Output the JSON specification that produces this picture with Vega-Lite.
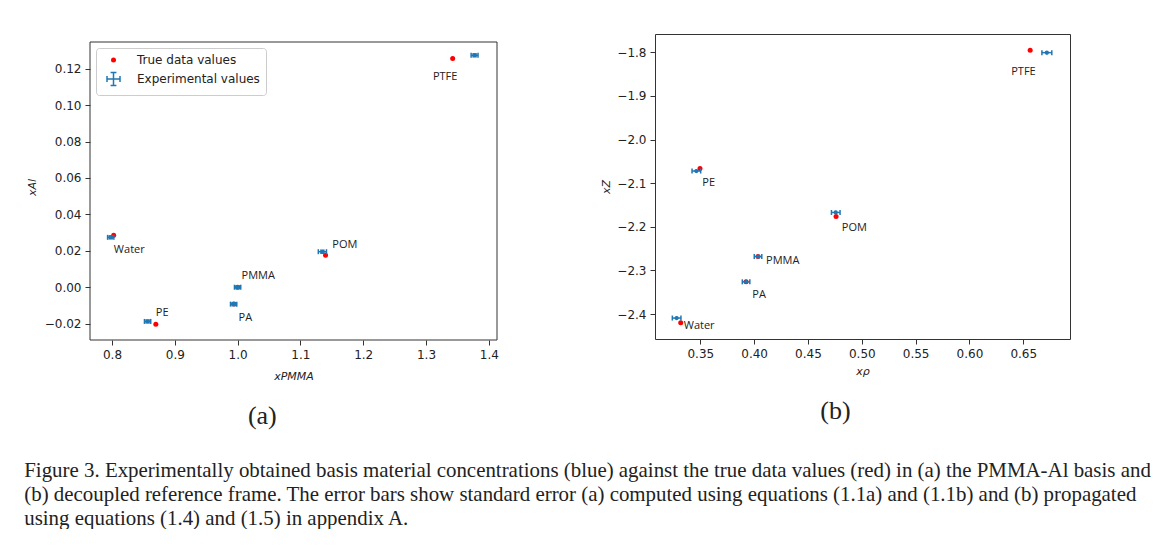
{
  "$schema": "https://vega.github.io/schema/vega-lite/v6.json",
  "background": "white",
  "padding": {"left": 24, "top": 33, "right": 0, "bottom": 0},
  "datasets": {
    "trueA": [
      {"material": "PMMA", "series": "True data values", "x": 1.0, "y": 0.0},
      {"material": "PA", "series": "True data values", "x": 0.994, "y": -0.0092},
      {"material": "Water", "series": "True data values", "x": 0.8027, "y": 0.0285},
      {"material": "PE", "series": "True data values", "x": 0.8698, "y": -0.0204},
      {"material": "POM", "series": "True data values", "x": 1.140, "y": 0.0176},
      {"material": "PTFE", "series": "True data values", "x": 1.3424, "y": 0.1257}
    ],
    "expA": [
      {"material": "Water", "x": 0.798, "y": 0.0274, "xlo": 0.793, "xhi": 0.803, "ylo": 0.0265, "yhi": 0.0283},
      {"material": "PE", "x": 0.8567, "y": -0.0188, "xlo": 0.8517, "xhi": 0.8617, "ylo": -0.0197, "yhi": -0.0179},
      {"material": "PMMA", "x": 1.0, "y": 0.0, "xlo": 0.995, "xhi": 1.005, "ylo": -0.0009, "yhi": 0.0009},
      {"material": "PA", "x": 0.9937, "y": -0.0093, "xlo": 0.9887, "xhi": 0.9987, "ylo": -0.0102, "yhi": -0.0084},
      {"material": "POM", "x": 1.135, "y": 0.0195, "xlo": 1.1285, "xhi": 1.1415, "ylo": 0.0186, "yhi": 0.0204},
      {"material": "PTFE", "x": 1.3773, "y": 0.1274, "xlo": 1.3718, "xhi": 1.3828, "ylo": 0.1265, "yhi": 0.1283}
    ],
    "labA": [
      {"material": "Water", "x": 0.803, "y": 0.0204},
      {"material": "PE", "x": 0.8698, "y": -0.0142},
      {"material": "PMMA", "x": 1.0063, "y": 0.0061},
      {"material": "PA", "x": 1.0016, "y": -0.017},
      {"material": "POM", "x": 1.1508, "y": 0.0231},
      {"material": "PTFE", "x": 1.311, "y": 0.1154}
    ],
    "trueB": [
      {"material": "PMMA", "x": 0.4036, "y": -2.268},
      {"material": "PA", "x": 0.3925, "y": -2.326},
      {"material": "Water", "x": 0.3318, "y": -2.42},
      {"material": "PE", "x": 0.3497, "y": -2.066},
      {"material": "POM", "x": 0.4761, "y": -2.176},
      {"material": "PTFE", "x": 0.6564, "y": -1.7954}
    ],
    "expB": [
      {"material": "Water", "x": 0.328, "y": -2.409, "xlo": 0.324, "xhi": 0.332, "ylo": -2.413, "yhi": -2.405},
      {"material": "PE", "x": 0.3463, "y": -2.072, "xlo": 0.3423, "xhi": 0.3503, "ylo": -2.076, "yhi": -2.068},
      {"material": "POM", "x": 0.4758, "y": -2.167, "xlo": 0.4718, "xhi": 0.4798, "ylo": -2.171, "yhi": -2.163},
      {"material": "PMMA", "x": 0.4036, "y": -2.268, "xlo": 0.4001, "xhi": 0.4071, "ylo": -2.272, "yhi": -2.264},
      {"material": "PA", "x": 0.3925, "y": -2.326, "xlo": 0.389, "xhi": 0.396, "ylo": -2.33, "yhi": -2.322},
      {"material": "PTFE", "x": 0.6719, "y": -1.8007, "xlo": 0.6673, "xhi": 0.6765, "ylo": -1.8047, "yhi": -1.7967}
    ],
    "labB": [
      {"material": "PTFE", "x": 0.6388, "y": -1.8443},
      {"material": "PE", "x": 0.3519, "y": -2.1},
      {"material": "POM", "x": 0.4814, "y": -2.202},
      {"material": "PMMA", "x": 0.4111, "y": -2.2778},
      {"material": "PA", "x": 0.3983, "y": -2.3557},
      {"material": "Water", "x": 0.3346, "y": -2.4268}
    ]
  },
  "title": {
    "text": [
      "Figure 3. Experimentally obtained basis material concentrations (blue) against the true data values (red) in (a) the PMMA-Al basis and",
      "(b) decoupled reference frame. The error bars show standard error (a) computed using equations (1.1a) and (1.1b) and (b) propagated",
      "using equations (1.4) and (1.5) in appendix A."
    ],
    "orient": "bottom",
    "anchor": "start",
    "frame": "bounds",
    "font": "Liberation Serif",
    "fontSize": 20.9,
    "fontWeight": "normal",
    "lineHeight": 24,
    "color": "#222222",
    "offset": 31,
    "dx": -2
  },
  "spacing": 101,
  "hconcat": [
    {
      "width": 407,
      "height": 306,
      "view": {"stroke": null},
      "title": {"text": "(a)", "orient": "bottom", "font": "Liberation Serif", "fontSize": 26, "fontWeight": "normal", "color": "#222222", "offset": 22, "anchor": "middle", "frame": "bounds"},
      "layer": [
        {
          "data": {"name": "trueA"},
          "mark": {"type": "point", "filled": true, "opacity": 1, "strokeWidth": 1.5},
          "encoding": {
            "x": {"field": "x", "type": "quantitative", "title": "xPMMA", "scale": {"domain": [0.765, 1.413], "nice": false, "zero": false},
                  "axis": {"values": [0.8, 0.9, 1.0, 1.1, 1.2, 1.3, 1.4], "format": ".1f", "titlePadding": 10}},
            "y": {"field": "y", "type": "quantitative", "title": "xAl", "scale": {"domain": [-0.029, 0.1391], "nice": false, "zero": false},
                  "axis": {"values": [-0.02, 0, 0.02, 0.04, 0.06, 0.08, 0.1, 0.12], "format": ".2f", "titlePadding": 7}},
            "fill": {"field": "series", "type": "nominal", "title": null,
              "scale": {"domain": ["True data values", "Experimental values"], "range": ["red", "transparent"]},
              "legend": {"title": null, "orient": "none", "legendX": 6, "legendY": 14, "fillColor": "white", "strokeColor": "#cccccc", "cornerRadius": 3, "padding": 6, "symbolOffset": 4, "labelOffset": 16, "rowPadding": 3.5, "labelFont": "DejaVu Sans", "labelFontSize": 12, "labelColor": "#222222", "symbolStrokeWidth": 1.5}},
            "stroke": {"field": "series", "type": "nominal", "title": null,
              "scale": {"domain": ["True data values", "Experimental values"], "range": ["transparent", "#1f77b4"]},
              "legend": {"title": null, "orient": "none", "legendX": 6, "legendY": 14, "fillColor": "white", "strokeColor": "#cccccc", "cornerRadius": 3, "padding": 6, "symbolOffset": 4, "labelOffset": 16, "rowPadding": 3.5, "labelFont": "DejaVu Sans", "labelFontSize": 12, "labelColor": "#222222", "symbolStrokeWidth": 1.5}},
            "shape": {"field": "series", "type": "nominal", "title": null,
              "scale": {"domain": ["True data values", "Experimental values"], "range": ["circle", "M-1,0H1M0,-1V1M-1,-0.45V0.45M1,-0.45V0.45M-0.45,-1H0.45M-0.45,1H0.45"]},
              "legend": {"title": null, "orient": "none", "legendX": 6, "legendY": 14, "fillColor": "white", "strokeColor": "#cccccc", "cornerRadius": 3, "padding": 6, "symbolOffset": 4, "labelOffset": 16, "rowPadding": 3.5, "labelFont": "DejaVu Sans", "labelFontSize": 12, "labelColor": "#222222", "symbolStrokeWidth": 1.5}},
            "size": {"field": "series", "type": "nominal", "title": null,
              "scale": {"domain": ["True data values", "Experimental values"], "range": [25, 169]},
              "legend": {"title": null, "orient": "none", "legendX": 6, "legendY": 14, "fillColor": "white", "strokeColor": "#cccccc", "cornerRadius": 3, "padding": 6, "symbolOffset": 4, "labelOffset": 16, "rowPadding": 3.5, "labelFont": "DejaVu Sans", "labelFontSize": 12, "labelColor": "#222222", "symbolStrokeWidth": 1.5}}
          }
        },
        {
          "data": {"name": "expA"},
          "mark": {"type": "rule", "color": "#1f77b4", "strokeWidth": 1.5},
          "encoding": {
            "x": {"field": "xlo", "type": "quantitative", "title": "xPMMA", "scale": {"domain": [0.765, 1.413], "nice": false, "zero": false}},
            "x2": {"field": "xhi"},
            "y": {"field": "y", "type": "quantitative", "title": "xAl", "scale": {"domain": [-0.029, 0.1391], "nice": false, "zero": false}}
          }
        },
        {
          "data": {"name": "expA"},
          "mark": {"type": "rule", "color": "#1f77b4", "strokeWidth": 1.5},
          "encoding": {
            "x": {"field": "x", "type": "quantitative", "title": "xPMMA", "scale": {"domain": [0.765, 1.413], "nice": false, "zero": false}},
            "y": {"field": "ylo", "type": "quantitative", "title": "xAl", "scale": {"domain": [-0.029, 0.1391], "nice": false, "zero": false}},
            "y2": {"field": "yhi"}
          }
        },
        {
          "data": {"name": "expA"},
          "mark": {"type": "tick", "orient": "vertical", "color": "#1f77b4", "size": 5, "thickness": 1.5, "opacity": 1},
          "encoding": {
            "x": {"field": "xlo", "type": "quantitative", "title": "xPMMA", "scale": {"domain": [0.765, 1.413], "nice": false, "zero": false}},
            "y": {"field": "y", "type": "quantitative", "title": "xAl", "scale": {"domain": [-0.029, 0.1391], "nice": false, "zero": false}}
          }
        },
        {
          "data": {"name": "expA"},
          "mark": {"type": "tick", "orient": "vertical", "color": "#1f77b4", "size": 5, "thickness": 1.5, "opacity": 1},
          "encoding": {
            "x": {"field": "xhi", "type": "quantitative", "title": "xPMMA", "scale": {"domain": [0.765, 1.413], "nice": false, "zero": false}},
            "y": {"field": "y", "type": "quantitative", "title": "xAl", "scale": {"domain": [-0.029, 0.1391], "nice": false, "zero": false}}
          }
        },
        {
          "data": {"name": "expA"},
          "mark": {"type": "point", "shape": "square", "filled": true, "opacity": 1, "size": 20, "color": "#1f77b4"},
          "encoding": {
            "x": {"field": "x", "type": "quantitative", "title": "xPMMA", "scale": {"domain": [0.765, 1.413], "nice": false, "zero": false}},
            "y": {"field": "y", "type": "quantitative", "title": "xAl", "scale": {"domain": [-0.029, 0.1391], "nice": false, "zero": false}}
          }
        },
        {
          "data": {"name": "labA"},
          "mark": {"type": "text", "align": "left", "baseline": "middle", "font": "Open Sans", "fontSize": 11, "color": "#222222"},
          "encoding": {
            "x": {"field": "x", "type": "quantitative", "title": "xPMMA", "scale": {"domain": [0.765, 1.413], "nice": false, "zero": false}},
            "y": {"field": "y", "type": "quantitative", "title": "xAl", "scale": {"domain": [-0.029, 0.1391], "nice": false, "zero": false}},
            "text": {"field": "material"}
          }
        },
        {
          "data": {"values": [{}]},
          "mark": {"type": "rect", "fill": null, "fillOpacity": 0, "stroke": "#333333", "strokeWidth": 1},
          "encoding": {
            "x": {"datum": 0.765, "type": "quantitative", "title": "xPMMA", "scale": {"domain": [0.765, 1.413], "nice": false, "zero": false}},
            "x2": {"datum": 1.413},
            "y": {"datum": -0.029, "type": "quantitative", "title": "xAl", "scale": {"domain": [-0.029, 0.1391], "nice": false, "zero": false}},
            "y2": {"datum": 0.1347}
          }
        }
      ]
    },
    {
      "width": 415,
      "height": 305,
      "title": {"text": "(b)", "orient": "bottom", "font": "Liberation Serif", "fontSize": 26, "fontWeight": "normal", "color": "#222222", "offset": 22, "anchor": "middle", "frame": "bounds"},
      "layer": [
        {
          "data": {"name": "trueB"},
          "mark": {"type": "point", "filled": true, "opacity": 1, "size": 25, "shape": "circle", "color": "red"},
          "encoding": {
            "x": {"field": "x", "type": "quantitative", "title": "xρ", "scale": {"domain": [0.3079, 0.6934], "nice": false, "zero": false},
                  "axis": {"values": [0.35, 0.4, 0.45, 0.5, 0.55, 0.6, 0.65], "format": ".2f", "titlePadding": 6}},
            "y": {"field": "y", "type": "quantitative", "title": "xZ", "scale": {"domain": [-2.457, -1.758], "nice": false, "zero": false},
                  "axis": {"values": [-2.4, -2.3, -2.2, -2.1, -2.0, -1.9, -1.8], "format": ".1f", "titlePadding": 5}}
          }
        },
        {
          "data": {"name": "expB"},
          "mark": {"type": "rule", "color": "#1f77b4", "strokeWidth": 1.5},
          "encoding": {
            "x": {"field": "xlo", "type": "quantitative", "title": "xρ", "scale": {"domain": [0.3079, 0.6934], "nice": false, "zero": false}},
            "x2": {"field": "xhi"},
            "y": {"field": "y", "type": "quantitative", "title": "xZ", "scale": {"domain": [-2.457, -1.758], "nice": false, "zero": false}}
          }
        },
        {
          "data": {"name": "expB"},
          "mark": {"type": "rule", "color": "#1f77b4", "strokeWidth": 1.5},
          "encoding": {
            "x": {"field": "x", "type": "quantitative", "title": "xρ", "scale": {"domain": [0.3079, 0.6934], "nice": false, "zero": false}},
            "y": {"field": "ylo", "type": "quantitative", "title": "xZ", "scale": {"domain": [-2.457, -1.758], "nice": false, "zero": false}},
            "y2": {"field": "yhi"}
          }
        },
        {
          "data": {"name": "expB"},
          "mark": {"type": "tick", "orient": "vertical", "color": "#1f77b4", "size": 5, "thickness": 1.5, "opacity": 1},
          "encoding": {
            "x": {"field": "xlo", "type": "quantitative", "title": "xρ", "scale": {"domain": [0.3079, 0.6934], "nice": false, "zero": false}},
            "y": {"field": "y", "type": "quantitative", "title": "xZ", "scale": {"domain": [-2.457, -1.758], "nice": false, "zero": false}}
          }
        },
        {
          "data": {"name": "expB"},
          "mark": {"type": "tick", "orient": "vertical", "color": "#1f77b4", "size": 5, "thickness": 1.5, "opacity": 1},
          "encoding": {
            "x": {"field": "xhi", "type": "quantitative", "title": "xρ", "scale": {"domain": [0.3079, 0.6934], "nice": false, "zero": false}},
            "y": {"field": "y", "type": "quantitative", "title": "xZ", "scale": {"domain": [-2.457, -1.758], "nice": false, "zero": false}}
          }
        },
        {
          "data": {"name": "expB"},
          "mark": {"type": "point", "shape": "circle", "filled": true, "opacity": 1, "size": 18, "color": "#1f77b4"},
          "encoding": {
            "x": {"field": "x", "type": "quantitative", "title": "xρ", "scale": {"domain": [0.3079, 0.6934], "nice": false, "zero": false}},
            "y": {"field": "y", "type": "quantitative", "title": "xZ", "scale": {"domain": [-2.457, -1.758], "nice": false, "zero": false}}
          }
        },
        {
          "data": {"name": "labB"},
          "mark": {"type": "text", "align": "left", "baseline": "middle", "font": "Open Sans", "fontSize": 11, "color": "#222222"},
          "encoding": {
            "x": {"field": "x", "type": "quantitative", "title": "xρ", "scale": {"domain": [0.3079, 0.6934], "nice": false, "zero": false}},
            "y": {"field": "y", "type": "quantitative", "title": "xZ", "scale": {"domain": [-2.457, -1.758], "nice": false, "zero": false}},
            "text": {"field": "material"}
          }
        }
      ]
    }
  ],
  "config": {
    "font": "DejaVu Sans",
    "view": {"stroke": "#333333", "strokeWidth": 1},
    "axis": {
      "grid": false,
      "domain": false,
      "tickColor": "#333333",
      "tickSize": 5,
      "labelPadding": 4,
      "labelFont": "DejaVu Sans",
      "labelFontSize": 12,
      "labelColor": "#222222",
      "labelFlush": false,
      "titleFont": "DejaVu Sans",
      "titleFontSize": 11,
      "titleFontStyle": "italic",
      "titleFontWeight": "normal",
      "titleColor": "#222222"
    }
  }
}
